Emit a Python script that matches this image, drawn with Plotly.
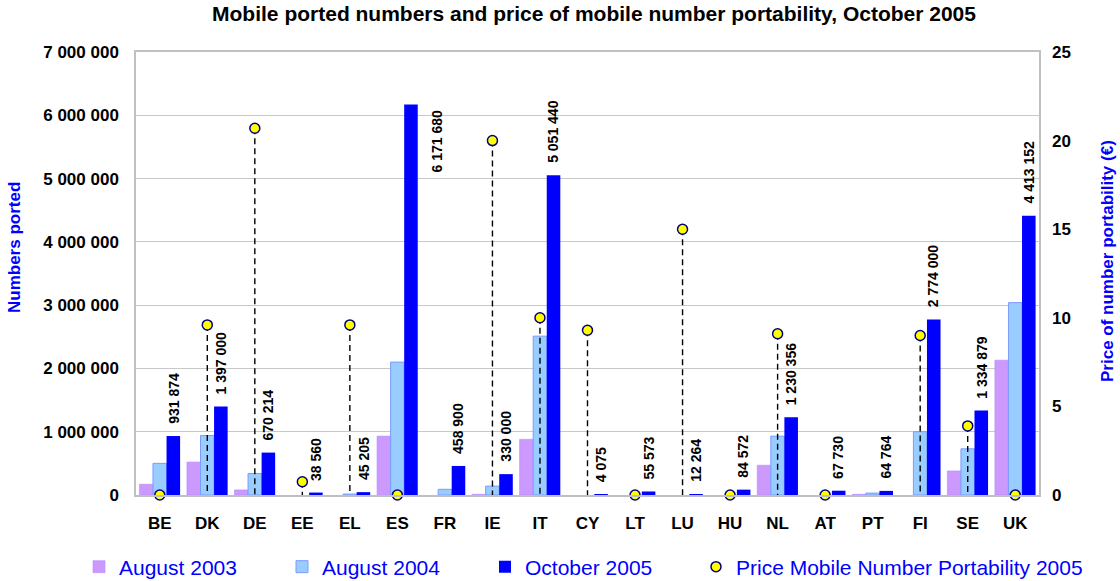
import plotly.graph_objects as go

# ---------------- data ----------------
countries = ["BE", "DK", "DE", "EE", "EL", "ES", "FR", "IE", "IT", "CY",
             "LT", "LU", "HU", "NL", "AT", "PT", "FI", "SE", "UK"]
aug2003 = [170000, 520000, 80000, None, None, 930000, None, 10000, 880000, None,
           None, None, None, 470000, None, 10000, None, 380000, 2130000]
aug2004 = [500000, 940000, 340000, None, 15000, 2100000, 90000, 140000, 2510000, None,
           None, None, None, 930000, None, 30000, 1000000, 730000, 3040000]
oct2005 = [931874, 1397000, 670214, 38560, 45205, 6171680, 458900, 330000, 5051440, 4075,
           55573, 12264, 84572, 1230356, 67730, 64764, 2774000, 1334879, 4413152]
price2005 = [0, 9.6, 20.7, 0.75, 9.6, 0, None, 20, 10, 9.3,
             0, 15, 0, 9.1, 0, None, 9, 3.9, 0]

left_ticks = [0, 1000000, 2000000, 3000000, 4000000, 5000000, 6000000, 7000000]
right_ticks = [0, 5, 10, 15, 20, 25]

def spaced(v):
    return f"{v:,}".replace(",", " ")

# ---------------- style ----------------
FONT = "Arial, Liberation Sans, sans-serif"
BLUE = "#0000ff"
BARGAP = 0.144
label_overrides = {"ES": dict(xshift=26, yanchor="top", yshift=-4)}

L, R, T, B = 136, 81, 52, 86
W, H = 1120, 581
pw, ph = W - L - R, H - T - B

fig = go.Figure()
fig.add_trace(go.Bar(name="August 2003", x=countries, y=aug2003, legend="legend",
                     marker=dict(color="#cc99ff", line=dict(color="#b48cff", width=0.6))))
fig.add_trace(go.Bar(name="August 2004", x=countries, y=aug2004, legend="legend",
                     marker=dict(color="#99ccff", line=dict(color="#7a9cff", width=1))))
fig.add_trace(go.Bar(name="October 2005", x=countries, y=oct2005, legend="legend",
                     marker=dict(color=BLUE, line=dict(width=0))))

# drop lines from price markers to zero
dx, dy = [], []
for c, p in zip(countries, price2005):
    if p:
        dx += [c, c, None]
        dy += [p, 0, None]
fig.add_trace(go.Scatter(x=dx, y=dy, yaxis="y2", mode="lines", showlegend=False,
                         hoverinfo="skip",
                         line=dict(color="black", width=1.4, dash="6px,4px")))
fig.add_trace(go.Scatter(name="Price Mobile Number Portability 2005", x=countries, y=price2005,
                         yaxis="y2", mode="markers", cliponaxis=False, legend="legend2",
                         marker=dict(symbol="circle", size=10, color="#ffff00",
                                     line=dict(color="#000080", width=1.5))))

# value labels on October 2005 bars
offset = (1 - BARGAP) / 3
for i, (c, v) in enumerate(zip(countries, oct2005)):
    kw = dict(xshift=0, yanchor="bottom", yshift=10)
    kw.update(label_overrides.get(c, {}))
    fig.add_annotation(x=i + offset, y=v, xref="x", yref="y", text=spaced(v),
                       textangle=-90, showarrow=False, xanchor="center",
                       font=dict(family=FONT, size=14, color="black", weight="bold"),
                       **kw)

# axis titles (pixel positions converted to paper coordinates)
for txt, px, py in [("Numbers ported", 14, 248),
                    ("Price of number portability (€)", 1107, 261)]:
    fig.add_annotation(x=(px - L) / pw, y=(H - B - py) / ph, xref="paper", yref="paper",
                       text=txt, showarrow=False, textangle=-90,
                       xanchor="center", yanchor="middle",
                       font=dict(family=FONT, size=17, color=BLUE, weight="bold"))

legend_common = dict(orientation="h", xanchor="left", yanchor="middle",
                     y=-72 / ph, font=dict(family=FONT, size=21, color=BLUE),
                     bgcolor="rgba(0,0,0,0)", traceorder="normal")

fig.update_layout(
    width=W, height=H,
    margin=dict(l=L, r=R, t=T, b=B, autoexpand=False),
    paper_bgcolor="white", plot_bgcolor="white",
    barmode="group", bargap=BARGAP, bargroupgap=0,
    font=dict(family=FONT, color="black"),
    title=dict(text="Mobile ported numbers and price of mobile number portability, October 2005",
               x=(594 - L) / pw, xref="paper", xanchor="center",
               y=1 - 14 / H, yref="container", yanchor="middle",
               font=dict(family=FONT, size=21, color="black", weight="bold")),
    xaxis=dict(type="category", range=[-0.5, len(countries) - 0.5],
               showgrid=False, showline=True, mirror=True,
               linecolor="#c0c0c0", linewidth=1.5, ticks="",
               tickfont=dict(family=FONT, size=17, color="black", weight="bold"),
               ticklabelstandoff=12),
    yaxis=dict(range=[0, 7000000], tickvals=left_ticks,
               ticktext=[spaced(t) for t in left_ticks],
               showgrid=True, gridcolor="#c8c8c8", gridwidth=1,
               showline=True, mirror=True, linecolor="#c0c0c0", linewidth=1.5,
               zeroline=False, ticks="",
               tickfont=dict(family=FONT, size=17, color="black", weight="bold"),
               ticklabelstandoff=12),
    yaxis2=dict(range=[0, 25], tickvals=right_ticks, overlaying="y", side="right",
                showgrid=False, zeroline=False, showline=False, ticks="",
                tickfont=dict(family=FONT, size=17, color="black", weight="bold"),
                ticklabelstandoff=12),
    legend=dict(x=(79 - L) / pw, entrywidth=158, entrywidthmode="pixels", **legend_common),
    legend2=dict(x=(696 - L) / pw, **legend_common),
    showlegend=True,
)

fig.write_html("out.html", config={"displayModeBar": False},
               post_script="document.body.style.margin='0';document.body.style.overflow='hidden';")
